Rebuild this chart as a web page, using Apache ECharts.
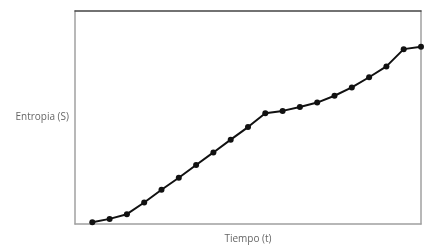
<!DOCTYPE html>
<html><head><meta charset="utf-8">
<script src="https://cdn.jsdelivr.net/npm/echarts@6/dist/echarts.min.js"></script>
<style>html,body{margin:0;padding:0;background:#fff}#c{width:429px;height:249px}</style>
</head><body><div id="c"></div>
<script>
var timeSteps = [1,2,3,4,5,6,7,8,9,10,11,12,13,14,15,16,17,18,19,20];
var entropy = [0.8,2.4,4.6,10.1,16.1,21.7,27.7,33.6,39.6,45.5,52.0,53.1,54.9,57.0,60.2,64.1,68.9,74.0,82.1,83.2];
var xTitle = 'Tiempo (t)';
var yTitle = 'Entropia (S)';

var chart = echarts.init(document.getElementById('c'), null, {renderer:'canvas'});
var font = '"Open Sans", "DejaVu Sans", sans-serif';
var hidden = {axisTick:{show:false}, axisLabel:{show:false}, splitLine:{show:false}};
chart.setOption({
  animation:false,
  grid:{left:75, right:8, top:11, bottom:20, containLabel:false},
  xAxis:[
    Object.assign({type:'value', min:0, max:20, position:'bottom',
      axisLine:{show:true, onZero:false, lineStyle:{color:'#a0a0a0', width:1.5}},
      name:xTitle, nameLocation:'middle', nameGap:10,
      nameTextStyle:{color:'#666', fontSize:10, fontFamily:font}}, hidden),
    Object.assign({type:'value', min:0, max:20, position:'top',
      axisLine:{show:true, onZero:false, lineStyle:{color:'#444', width:1.5}}}, hidden)
  ],
  yAxis:[
    Object.assign({type:'value', min:0, max:100, position:'left',
      axisLine:{show:true, onZero:false, lineStyle:{color:'#a0a0a0', width:1.5}},
      name:yTitle, nameLocation:'middle', nameRotate:0, nameGap:6,
      nameTextStyle:{color:'#666', fontSize:10, fontFamily:font}}, hidden),
    Object.assign({type:'value', min:0, max:100, position:'right',
      axisLine:{show:true, onZero:false, lineStyle:{color:'#a0a0a0', width:1.5}}}, hidden)
  ],
  series:[{
    type:'line', xAxisIndex:0, yAxisIndex:0,
    data: timeSteps.map(function(t,i){return [t, entropy[i]];}),
    symbol:'circle', symbolSize:6,
    lineStyle:{color:'#111', width:2},
    itemStyle:{color:'#111'}
  }]
});
</script></body></html>
